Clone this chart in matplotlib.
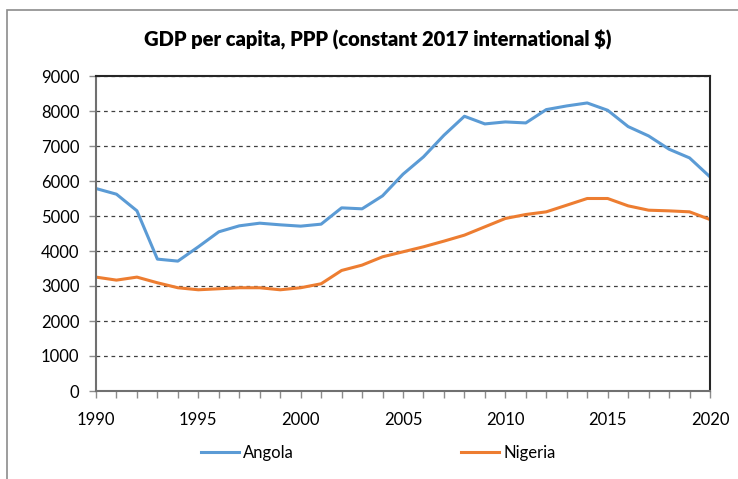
import numpy as np
import matplotlib.pyplot as plt
from matplotlib.patches import Rectangle

# GDP per capita, PPP (constant 2017 international $)
years = list(range(1990, 2021))
angola = [5785, 5623, 5148, 3768, 3711, 4120, 4548, 4719, 4795, 4748,
          4710, 4767, 5233, 5205, 5576, 6194, 6689, 7307, 7850, 7631,
          7688, 7659, 8040, 8145, 8230, 8021, 7555, 7288, 6908, 6660,
          6118]
nigeria = [3254, 3168, 3254, 3092, 2950, 2892, 2921, 2950, 2950, 2892,
           2950, 3064, 3444, 3597, 3834, 3977, 4120, 4282, 4453, 4691,
           4929, 5043, 5119, 5309, 5500, 5500, 5290, 5166, 5147, 5119,
           4900]
yticks = list(range(0, 9001, 1000))
xlabels = list(range(1990, 2021, 5))

plt.rcParams['font.family'] = ['Lato', 'DejaVu Sans']

fig = plt.figure(figsize=(7.38, 4.79), dpi=100)
# chart area border
fig.patches.append(Rectangle((7 / 738, -0.1), 1.1, 1 - 10 / 479 + 0.1,
                             transform=fig.transFigure, fill=False,
                             edgecolor='#8c8c8c', linewidth=1.2))

ax = fig.add_axes([96 / 738, 1 - 391 / 479, 614 / 738, 315 / 479])
ax.plot(years, angola, color='#5b9bd5', linewidth=2.2, label='Angola')
ax.plot(years, nigeria, color='#ed7d31', linewidth=2.2, label='Nigeria')

ax.set_xlim(1990, 2020)
ax.set_ylim(0, 9000)
ax.set_yticks(yticks)
ax.set_xticks(xlabels)
ax.set_xticks(years, minor=True)
ax.tick_params(axis='both', labelsize=12, colors='#8c8c8c',
               labelcolor='black', length=5, width=1)
ax.tick_params(axis='x', which='minor', length=5, width=1, colors='#8c8c8c')
ax.tick_params(axis='x', pad=10)
ax.tick_params(axis='y', pad=7)
ax.grid(axis='y', linestyle=(0, (3, 3)), color='#404040', linewidth=0.9)
for s in ax.spines.values():
    s.set_color('#262626')
    s.set_linewidth(1.5)
ax.spines['left'].set_color('#707070')
ax.spines['bottom'].set_color('#707070')

fig.text(378 / 738, 1 - 40 / 479,
         'GDP per capita, PPP (constant 2017 international $)',
         ha='center', va='center', fontsize=14.5, fontweight='heavy')

fig.legend(loc='center', bbox_to_anchor=(378 / 738, 1 - 453 / 479), ncol=2,
           frameon=False, fontsize=12, handlelength=2.3,
           handletextpad=0.25, columnspacing=10)

fig.savefig('out.png', dpi=100)
